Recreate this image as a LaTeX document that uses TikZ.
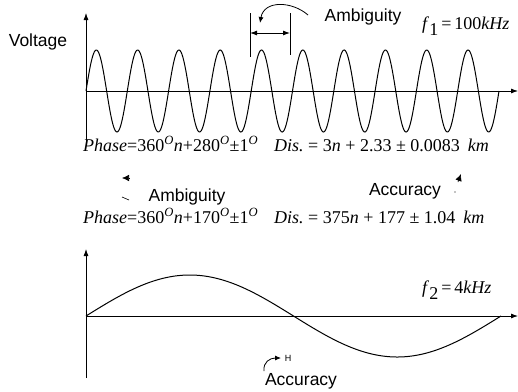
\documentclass[tikz,border=0pt]{standalone}
\usepackage{fontspec}
\setmainfont{Liberation Serif}
\newfontfamily\labelfont{Liberation Sans}
\usetikzlibrary{arrows.meta}
\tikzset{
  axis/.style={line width=0.8pt,-{Latex[length=7pt,width=5pt]}},
  wave/.style={line width=1pt},
  lbl/.style={font=\labelfont\fontsize{17.5}{19}\selectfont,inner sep=0pt},
  eqn/.style={font=\fontsize{18}{20}\selectfont,inner sep=0pt,anchor=base west},
  thinarrow/.style={line width=0.8pt,-{Latex[length=6pt,width=5pt]}},
  tiparrow/.style={line width=0.6pt,-{Latex[length=7pt,width=6.5pt]}}
}
\newcommand{\degO}{\textsuperscript{\itshape O}}
\newcommand{\gp}{\hspace{4.5pt}}
\begin{document}
\begin{tikzpicture}[x=1pt,y=-1pt]
\useasboundingbox (0,0) rectangle (518,391);
% top plot
\coordinate (ty0) at (86,141);
\coordinate (ty1) at (86,13);
\coordinate (tx0) at (86,91);
\coordinate (tx1) at (518,91);
\draw[axis] (ty0) -- (ty1);
\draw[axis] (tx0) -- (tx1);
\draw[wave] plot[domain=86:499,samples=500,smooth] (\x,{91-41*sin(8.7167*(\x-86))});
\node[lbl] (volt) at (38,42) {Voltage};
% ambiguity bracket
\coordinate (bl0) at (250,13);
\coordinate (bl1) at (250,57);
\coordinate (br0) at (290,13);
\coordinate (br1) at (290,55);
\draw[line width=0.8pt] (bl0) -- (bl1);
\draw[line width=0.8pt] (br0) -- (br1);
\coordinate (ba) at (250,33);
\coordinate (bb) at (290,33);
\draw[line width=0.9pt,{Latex[length=7pt,width=5pt]}-{Latex[length=7pt,width=5pt]}] (ba) -- (bb);
\coordinate (cs) at (308,15);
\coordinate (ce) at (260,23);
\draw[thinarrow] (cs) .. controls (292,1) and (264,0) .. (ce);
\node[lbl] (amb1) at (363,17) {Ambiguity};
\node[eqn] (f1) at (422,29) {\textit{f}\raisebox{-0.35em}{1}\hspace{3pt}=\hspace{3pt}100\textit{kHz}};
% equations line 1
\node[eqn] (ph1) at (83,151) {\textit{Phase}=360\degO\textit{n}+280\degO±1\degO};
\node[eqn] (ds1) at (274,151) {\textit{Dis.}\gp=\gp3\textit{n}\gp+\gp2.33\gp±\gp0.0083\hspace{8pt}\textit{km}};
% middle labels
\node[lbl] (amb2) at (187,197) {Ambiguity};
\coordinate (ah0) at (129,178);
\coordinate (ah1) at (122,178);
\draw[tiparrow] (ah0) -- (ah1);
\coordinate (tk0) at (122,197);
\coordinate (tk1) at (129,200);
\draw[line width=0.6pt] (tk0) -- (tk1);
\node[lbl] (acc1) at (405,191) {Accuracy};
\coordinate (ac0) at (458,182);
\coordinate (ac1) at (461,174);
\draw[tiparrow] (ac0) -- (ac1);
\fill (455,192) circle (0.7);
% equations line 2
\node[eqn] (ph2) at (83,223) {\textit{Phase}=360\degO\textit{n}+170\degO±1\degO};
\node[eqn] (ds2) at (274,223) {\textit{Dis.}\gp=\gp375\textit{n}\gp+\gp177\gp±\gp1.04\hspace{8pt}\textit{km}};
% bottom plot
\coordinate (by0) at (86,378);
\coordinate (by1) at (86,249);
\coordinate (bx0) at (86,316);
\coordinate (bx1) at (518,316);
\draw[axis] (by0) -- (by1);
\draw[axis] (bx0) -- (bx1);
\draw[wave] plot[domain=86:501,samples=300,smooth] (\x,{316-41*sin(0.8675*(\x-86))});
\node[eqn] (f2) at (422,293) {\textit{f}\raisebox{-0.35em}{2}\hspace{3pt}=\hspace{3pt}4\textit{kHz}};
\node[lbl] (acc2) at (301,381) {Accuracy};
\coordinate (sa0) at (264,371);
\coordinate (sa1) at (281,358);
\draw[thinarrow] (sa0) .. controls (263,362) and (270,358) .. (sa1);
\node[font=\labelfont\fontsize{9}{10}\selectfont,inner sep=0pt] (hh) at (288,358) {H};
\end{tikzpicture}
\end{document}
